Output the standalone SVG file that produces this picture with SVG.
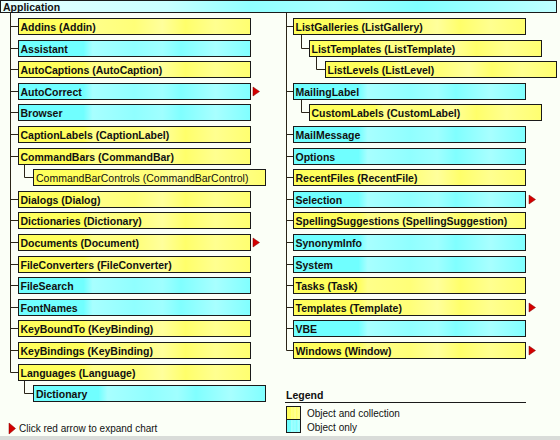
<svg xmlns="http://www.w3.org/2000/svg" width="560" height="440" viewBox="0 0 560 440">
<defs>
<linearGradient id="gy" x1="0" y1="0" x2="1" y2="0">
<stop offset="0" stop-color="#ffff5c"/>
<stop offset="0.28" stop-color="#ffff5c"/>
<stop offset="0.32" stop-color="#ffff8a"/>
<stop offset="0.5" stop-color="#ffff78"/>
<stop offset="0.62" stop-color="#ffff9c"/>
<stop offset="0.72" stop-color="#ffff6a"/>
<stop offset="0.85" stop-color="#ffff90"/>
<stop offset="1" stop-color="#ffff70"/>
</linearGradient>
<linearGradient id="gc" x1="0" y1="0" x2="1" y2="0">
<stop offset="0" stop-color="#70ffff"/>
<stop offset="0.28" stop-color="#70ffff"/>
<stop offset="0.32" stop-color="#a8ffff"/>
<stop offset="0.5" stop-color="#90ffff"/>
<stop offset="0.62" stop-color="#a0ffff"/>
<stop offset="0.7" stop-color="#80ffff"/>
<stop offset="0.85" stop-color="#a8ffff"/>
<stop offset="1" stop-color="#80ffff"/>
</linearGradient>
<linearGradient id="ga" x1="0" y1="0" x2="1" y2="0">
<stop offset="0" stop-color="#e8ffff"/>
<stop offset="0.3" stop-color="#c8ffff"/>
<stop offset="0.45" stop-color="#90ffff"/>
<stop offset="0.6" stop-color="#a8ffff"/>
<stop offset="0.75" stop-color="#80ffff"/>
<stop offset="1" stop-color="#c0ffff"/>
</linearGradient>
</defs>
<style>
.y{fill:url(#gy);stroke:#1a1a1a;stroke-width:1}
.c{fill:url(#gc);stroke:#1a1a1a;stroke-width:1}
.t{font-family:"Liberation Sans",Arial,sans-serif;font-weight:bold;font-size:10.5px;fill:#111}
.r{font-family:"Liberation Sans",Arial,sans-serif;font-size:10.5px;fill:#111}
.l{font-family:"Liberation Sans",Arial,sans-serif;font-size:10px;fill:#111}
.k{stroke:#2a2418;stroke-width:1;fill:none}
.ar{fill:#d40000;stroke:#800000;stroke-width:0.5}
</style>
<rect x="0" y="0" width="560" height="440" fill="#fbfff7"/>
<rect x="0" y="436" width="560" height="4" fill="#d9dcd9"/>

<g id="connectors">
<path class="k" d="M10.5,12 V372.5 M286.5,12 V350.5"/>
<path class="k" d="M10.5,26.5 H18 M10.5,48.5 H18 M10.5,69.5 H18 M10.5,91.5 H18 M10.5,112.5 H18 M10.5,134.5 H18 M10.5,156.5 H18 M10.5,199.5 H18 M10.5,220.5 H18 M10.5,242.5 H18 M10.5,264.5 H18 M10.5,285.5 H18 M10.5,307.5 H18 M10.5,328.5 H18 M10.5,350.5 H18 M10.5,372.5 H18"/>
<path class="k" d="M24.5,164 V177.5 H33 M24.5,380 V393.5 H33"/>
<path class="k" d="M286.5,26.5 H293 M286.5,91.5 H293 M286.5,134.5 H293 M286.5,156.5 H293 M286.5,177.5 H293 M286.5,199.5 H293 M286.5,220.5 H293 M286.5,242.5 H293 M286.5,264.5 H293 M286.5,285.5 H293 M286.5,307.5 H293 M286.5,328.5 H293 M286.5,350.5 H293"/>
<path class="k" d="M301.5,34 V48.5 H309 M316.5,56 V69.5 H325 M301.5,99 V112.5 H309"/>
</g>

<g id="application">
<rect x="0.5" y="0.5" width="556" height="12" fill="url(#ga)" stroke="#1a1a1a"/>
<text class="t" x="3" y="10.5">Application</text>
</g>

<g id="addins"><rect class="y" x="18.5" y="18.5" width="232" height="16"/><text class="t" x="20.5" y="30.5">Addins (Addin)</text></g>
<g id="assistant"><rect class="c" x="18.5" y="40.5" width="232" height="16"/><text class="t" x="20.5" y="52.5">Assistant</text></g>
<g id="autocaptions"><rect class="y" x="18.5" y="61.5" width="232" height="16"/><text class="t" x="20.5" y="73.5">AutoCaptions (AutoCaption)</text></g>
<g id="autocorrect"><rect class="c" x="18.5" y="83.5" width="232" height="16"/><text class="t" x="20.5" y="95.5">AutoCorrect</text><polygon class="ar" points="253,87 259.5,91.5 253,96"/></g>
<g id="browser"><rect class="c" x="18.5" y="104.5" width="232" height="16"/><text class="t" x="20.5" y="116.5">Browser</text></g>
<g id="captionlabels"><rect class="y" x="18.5" y="126.5" width="232" height="16"/><text class="t" x="20.5" y="138.5">CaptionLabels (CaptionLabel)</text></g>
<g id="commandbars"><rect class="y" x="18.5" y="148.5" width="232" height="16"/><text class="t" x="20.5" y="160.5">CommandBars (CommandBar)</text></g>
<g id="commandbarcontrols"><rect class="y" x="33.5" y="169.5" width="232" height="16"/><text class="r" x="36" y="181.5">CommandBarControls (CommandBarControl)</text></g>
<g id="dialogs"><rect class="y" x="18.5" y="191.5" width="232" height="16"/><text class="t" x="20.5" y="203.5">Dialogs (Dialog)</text></g>
<g id="dictionaries"><rect class="y" x="18.5" y="212.5" width="232" height="16"/><text class="t" x="20.5" y="224.5">Dictionaries (Dictionary)</text></g>
<g id="documents"><rect class="y" x="18.5" y="234.5" width="232" height="16"/><text class="t" x="20.5" y="246.5">Documents (Document)</text><polygon class="ar" points="253,238 259.5,242.5 253,247"/></g>
<g id="fileconverters"><rect class="y" x="18.5" y="256.5" width="232" height="16"/><text class="t" x="20.5" y="268.5">FileConverters (FileConverter)</text></g>
<g id="filesearch"><rect class="c" x="18.5" y="277.5" width="232" height="16"/><text class="t" x="20.5" y="289.5">FileSearch</text></g>
<g id="fontnames"><rect class="c" x="18.5" y="299.5" width="232" height="16"/><text class="t" x="20.5" y="311.5">FontNames</text></g>
<g id="keyboundto"><rect class="y" x="18.5" y="320.5" width="232" height="16"/><text class="t" x="20.5" y="332.5">KeyBoundTo (KeyBinding)</text></g>
<g id="keybindings"><rect class="y" x="18.5" y="342.5" width="232" height="16"/><text class="t" x="20.5" y="354.5">KeyBindings (KeyBinding)</text></g>
<g id="languages"><rect class="y" x="18.5" y="364.5" width="232" height="16"/><text class="t" x="20.5" y="376.5">Languages (Language)</text></g>
<g id="dictionary"><rect class="c" x="33.5" y="385.5" width="232" height="16"/><text class="t" x="36" y="397.5">Dictionary</text></g>

<g id="listgalleries"><rect class="y" x="293.5" y="18.5" width="232" height="16"/><text class="t" x="295.5" y="30.5">ListGalleries (ListGallery)</text></g>
<g id="listtemplates"><rect class="y" x="309.5" y="40.5" width="232" height="16"/><text class="t" x="311.5" y="52.5">ListTemplates (ListTemplate)</text></g>
<g id="listlevels"><rect class="y" x="325.5" y="61.5" width="231" height="16"/><text class="t" x="327.5" y="73.5">ListLevels (ListLevel)</text></g>
<g id="mailinglabel"><rect class="c" x="293.5" y="83.5" width="232" height="16"/><text class="t" x="295.5" y="95.5">MailingLabel</text></g>
<g id="customlabels"><rect class="y" x="309.5" y="104.5" width="232" height="16"/><text class="t" x="311.5" y="116.5">CustomLabels (CustomLabel)</text></g>
<g id="mailmessage"><rect class="c" x="293.5" y="126.5" width="232" height="16"/><text class="t" x="295.5" y="138.5">MailMessage</text></g>
<g id="options"><rect class="c" x="293.5" y="148.5" width="232" height="16"/><text class="t" x="295.5" y="160.5">Options</text></g>
<g id="recentfiles"><rect class="y" x="293.5" y="169.5" width="232" height="16"/><text class="t" x="295.5" y="181.5">RecentFiles (RecentFile)</text></g>
<g id="selection"><rect class="c" x="293.5" y="191.5" width="232" height="16"/><text class="t" x="295.5" y="203.5">Selection</text><polygon class="ar" points="529,195 535.5,199.5 529,204"/></g>
<g id="spellingsuggestions"><rect class="y" x="293.5" y="212.5" width="232" height="16"/><text class="t" x="295.5" y="224.5">SpellingSuggestions (SpellingSuggestion)</text></g>
<g id="synonyminfo"><rect class="c" x="293.5" y="234.5" width="232" height="16"/><text class="t" x="295.5" y="246.5">SynonymInfo</text></g>
<g id="system"><rect class="c" x="293.5" y="256.5" width="232" height="16"/><text class="t" x="295.5" y="268.5">System</text></g>
<g id="tasks"><rect class="y" x="293.5" y="277.5" width="232" height="16"/><text class="t" x="295.5" y="289.5">Tasks (Task)</text></g>
<g id="templates"><rect class="y" x="293.5" y="299.5" width="232" height="16"/><text class="t" x="295.5" y="311.5">Templates (Template)</text><polygon class="ar" points="529,303 535.5,307.5 529,312"/></g>
<g id="vbe"><rect class="c" x="293.5" y="320.5" width="232" height="16"/><text class="t" x="295.5" y="332.5">VBE</text></g>
<g id="windows"><rect class="y" x="293.5" y="342.5" width="232" height="16"/><text class="t" x="295.5" y="354.5">Windows (Window)</text><polygon class="ar" points="529,346 535.5,350.5 529,355"/></g>

<g id="legend">
<text class="t" x="286" y="398.5">Legend</text>
<line x1="285" y1="402.5" x2="526" y2="402.5" stroke="#1a1a1a"/>
<rect class="y" x="286.5" y="406.5" width="14" height="13"/>
<rect class="c" x="286.5" y="419.5" width="14" height="13"/>
<text class="l" x="307" y="417">Object and collection</text>
<text class="l" x="307" y="431">Object only</text>
</g>

<g id="hint">
<polygon class="ar" points="9,423 15.5,428.5 9,434"/>
<text class="l" x="19" y="432">Click red arrow to expand chart</text>
</g>
</svg>
